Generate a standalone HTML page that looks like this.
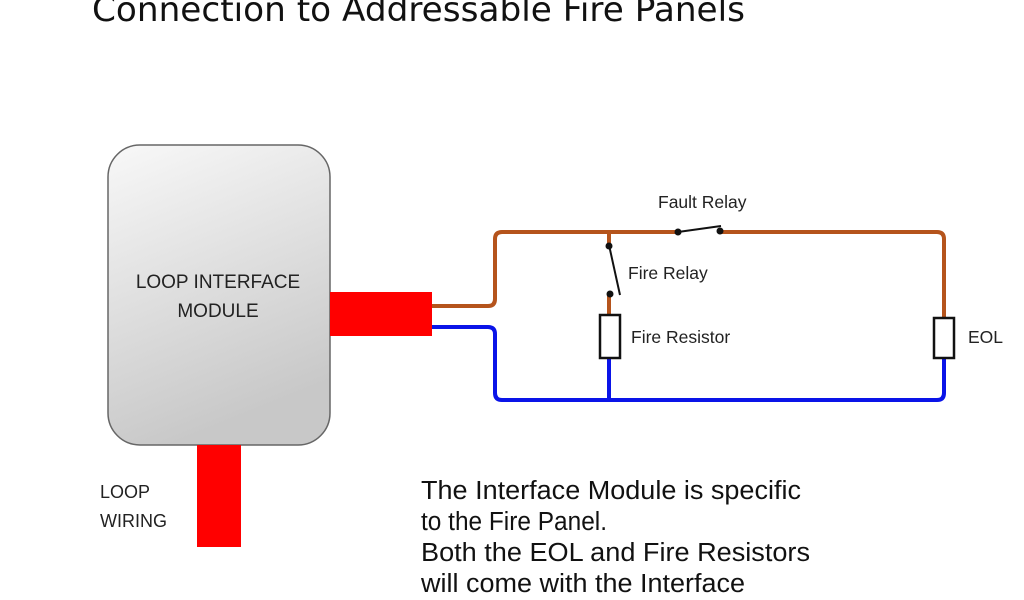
<!DOCTYPE html>
<html><head><style>
body{margin:0;width:1024px;height:600px;background:#fff;overflow:hidden;position:relative;font-family:"Liberation Sans",sans-serif}
</style></head><body>
<svg width="1024" height="600" style="position:absolute;left:0;top:0">
<defs><linearGradient id="g" x1="0" y1="0" x2="0.3" y2="1"><stop offset="0" stop-color="#f8f8f8"/><stop offset="1" stop-color="#c8c8c8"/></linearGradient></defs>
<text x="92" y="21" font-family="DejaVu Sans, Liberation Sans, sans-serif" font-size="34" fill="#111" textLength="653" lengthAdjust="spacingAndGlyphs">Connection to Addressable Fire Panels</text>
<rect x="108" y="145" width="222" height="300" rx="32" fill="url(#g)" stroke="#666" stroke-width="1.5"/>
<text x="218" y="288" text-anchor="middle" font-size="19" fill="#222">LOOP INTERFACE</text>
<text x="218" y="317" text-anchor="middle" font-size="19" fill="#222">MODULE</text>
<rect x="330" y="292" width="102" height="44" fill="#f00"/>
<rect x="197" y="445" width="44" height="102" fill="#f00"/>
<g fill="none" stroke-width="4" stroke-linejoin="round">
<path d="M432 306 H488 Q495 306 495 299 V239 Q495 232 502 232 H678" stroke="#b5541c"/>
<path d="M720 232 H937 Q944 232 944 239 V318" stroke="#b5541c"/>
<path d="M609 232 V245 M609 293 V315" stroke="#b5541c"/>
<path d="M432 327 H488 Q495 327 495 334 V393 Q495 400 502 400 H937 Q944 400 944 393 V358" stroke="#0a14e8"/>
<path d="M609 358 V400" stroke="#0a14e8"/>
</g>
<rect x="600" y="315" width="20" height="43" fill="#fff" stroke="#111" stroke-width="2.5"/>
<rect x="934" y="318" width="20" height="40" fill="#fff" stroke="#111" stroke-width="2.5"/>
<g stroke="#111" stroke-width="2"><line x1="609" y1="245" x2="620" y2="295"/><line x1="678" y1="232" x2="721" y2="226"/></g>
<g fill="#111"><circle cx="609" cy="246" r="3.5"/><circle cx="610" cy="294" r="3.5"/><circle cx="678" cy="232" r="3.5"/><circle cx="720" cy="231" r="3.5"/></g>
<g font-size="17.5" fill="#222">
<text x="658" y="208">Fault Relay</text>
<text x="628" y="279">Fire Relay</text>
<text x="631" y="343">Fire Resistor</text>
<text x="968" y="343">EOL</text>
<text x="100" y="498" font-size="18">LOOP</text>
<text x="100" y="527" font-size="18">WIRING</text>
</g>
<g font-size="25.5" fill="#111">
<text x="421" y="499" textLength="380" lengthAdjust="spacingAndGlyphs">The Interface Module is specific</text>
<text x="421" y="530" textLength="186" lengthAdjust="spacingAndGlyphs">to the Fire Panel.</text>
<text x="421" y="561" textLength="389" lengthAdjust="spacingAndGlyphs">Both the EOL and Fire Resistors</text>
<text x="421" y="592" textLength="324" lengthAdjust="spacingAndGlyphs">will come with the Interface</text>
</g>
</svg>
</body></html>
